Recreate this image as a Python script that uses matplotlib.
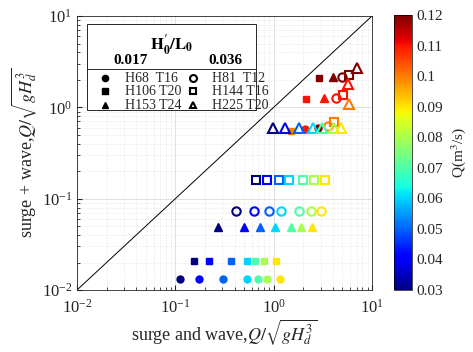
import numpy as np
import matplotlib
matplotlib.use("Agg")
import matplotlib.pyplot as plt
from matplotlib.patches import Rectangle
from matplotlib.lines import Line2D

plt.rcParams['font.family'] = ['Liberation Serif', 'DejaVu Serif']
plt.rcParams['mathtext.fontset'] = 'stix'

# Q values (m3/s) shared by the low-Q points of every series
q_low = [0.03, 0.04, 0.05, 0.06, 0.07, 0.08, 0.09]

# H68 T16 (filled circle)
c1_x = [0.112, 0.174, 0.307, 0.54, 0.70, 0.857, 1.16, 2.08, 2.85]
c1_y = [0.0132] * 7 + [0.58, 0.60]
c1_q = q_low + [0.11, 0.12]

# H106 T20 (filled square)
s1_x = [0.155, 0.219, 0.366, 0.532, 0.647, 0.80, 1.06, 1.50, 2.14, 2.92]
s1_y = [0.0208] * 7 + [0.552, 1.23, 2.11]
s1_q = q_low + [0.10, 0.11, 0.12]

# H153 T24 (filled triangle)
t1_x = [0.27, 0.504, 0.727, 1.04, 1.50, 1.90, 2.44, 3.26, 4.05]
t1_y = [0.0487] * 7 + [1.26, 2.17]
t1_q = q_low + [0.11, 0.12]

# H81 T12 (open circle)
c2_x = [0.414, 0.632, 0.898, 1.18, 1.82, 2.40, 3.01, 3.6, 4.32, 4.96]
c2_y = [0.074] * 7 + [0.625, 1.26, 2.14]
c2_q = q_low + [0.10, 0.11, 0.12]

# H144 T16 (open square)
s2_x = [0.662, 0.851, 1.13, 1.43, 1.98, 2.59, 3.31, 4.11, 5.08, 5.81]
s2_y = [0.159] * 7 + [0.697, 1.36, 2.26]
s2_q = q_low + [0.10, 0.11, 0.12]

# H225 T20 (open triangle)
t2_x = [0.975, 1.31, 1.81, 2.49, 3.08, 4.11, 4.85, 5.89, 5.75, 7.0]
t2_y = [0.594] * 7 + [1.09, 1.79, 2.68]
t2_q = q_low + [0.10, 0.11, 0.12]

cbar_ticks = [0.03, 0.04, 0.05, 0.06, 0.07, 0.08, 0.09, 0.1, 0.11, 0.12]
cbar_labels = ['0.03', '0.04', '0.05', '0.06', '0.07', '0.08', '0.09', '0.1', '0.11', '0.12']

cmap = plt.get_cmap('jet')
norm = matplotlib.colors.Normalize(vmin=0.03, vmax=0.12)

fig = plt.figure(figsize=(4.73, 3.52), dpi=100)
ax = fig.add_axes([0.1628, 0.1761, 0.6237, 0.7784])
cax = fig.add_axes([0.833, 0.1761, 0.038, 0.781])

ax.plot([1e-2, 1e1], [1e-2, 1e1], color='k', lw=0.7, zorder=2)

filled = [(c1_x, c1_y, c1_q, 'o', 5), (s1_x, s1_y, s1_q, 's', 4.5), (t1_x, t1_y, t1_q, '^', 5.5)]
opened = [(c2_x, c2_y, c2_q, 'o', 6), (s2_x, s2_y, s2_q, 's', 5.5), (t2_x, t2_y, t2_q, '^', 6.5)]

for xs, ys, qs, m, ms in filled:
    for x, y, q in zip(xs, ys, qs):
        ax.plot(x, y, m, color=cmap(norm(q)), ms=ms, mec=cmap(norm(q)), zorder=3)
for xs, ys, qs, m, ms in opened:
    for x, y, q in zip(xs, ys, qs):
        ax.plot(x, y, m, mfc='none', mec=cmap(norm(q)), ms=ms, mew=1.5, zorder=3)

ax.set_xscale('log')
ax.set_yscale('log')
ax.set_xlim(1e-2, 1e1)
ax.set_ylim(1e-2, 1e1)
ax.grid(True, which='major', color='#dcdcdc', lw=0.6)
ax.grid(True, which='minor', color='#dcdcdc', lw=0.5, ls=':')
ax.tick_params(which='both', direction='in', labelsize=12, colors='#262626')
ax.tick_params(axis='x', pad=6)
ax.tick_params(which='minor', length=2)
for sp in ax.spines.values():
    sp.set_color('#262626')
    sp.set_linewidth(0.6)
ax.set_xlabel(r'surge and wave,$Q/\sqrt{gH_d^3}$', fontsize=13, labelpad=1, color='#262626')
ax.set_ylabel(r'surge + wave,$Q/\sqrt{gH_d^3}$', fontsize=13, labelpad=2, color='#262626')

# legend box drawn by hand
tr = ax.transAxes
ax.add_patch(Rectangle((0.034, 0.657), 0.573, 0.314, transform=tr, fc='white',
                       ec='#262626', lw=0.7, zorder=5))
ax.add_line(Line2D([0.034, 0.607], [0.807, 0.807], transform=tr, color='#262626', lw=0.7, zorder=6))
ax.text(0.321, 0.894, r"$\mathbf{H_0'/L_0}$", transform=tr, ha='center', va='center',
        fontsize=12, zorder=6)
ax.text(0.18, 0.839, '0.017', transform=tr, ha='center', va='center', fontsize=11,
        fontweight='bold', zorder=6)
ax.text(0.502, 0.839, '0.036', transform=tr, ha='center', va='center', fontsize=11,
        fontweight='bold', zorder=6)
rows_y = [0.773, 0.726, 0.675]
left_lab = ['H68  T16', 'H106 T20', 'H153 T24']
right_lab = ['H81  T12', 'H144 T16', 'H225 T20']
marks = ['o', 's', '^']
for y, m, ll, rl in zip(rows_y, marks, left_lab, right_lab):
    ax.plot(0.095, y, m, color='k', ms=4.5, transform=tr, zorder=6, clip_on=False)
    ax.plot(0.394, y, m, mfc='none', mec='k', mew=1.5, ms=5, transform=tr, zorder=6, clip_on=False)
    ax.text(0.163, y, ll, transform=tr, va='center', fontsize=10, zorder=6, color='#262626')
    ax.text(0.457, y, rl, transform=tr, va='center', fontsize=10, zorder=6, color='#262626')

sm = matplotlib.cm.ScalarMappable(norm=norm, cmap=cmap)
cb = fig.colorbar(sm, cax=cax, ticks=cbar_ticks)
cb.ax.set_yticklabels(cbar_labels)
cb.ax.tick_params(labelsize=11, length=0, colors='#262626')
cb.outline.set_linewidth(0.5)
cb.set_label(r'Q(m$^3$/s)', fontsize=11, color='#262626')

fig.savefig('out.png', dpi=100)
